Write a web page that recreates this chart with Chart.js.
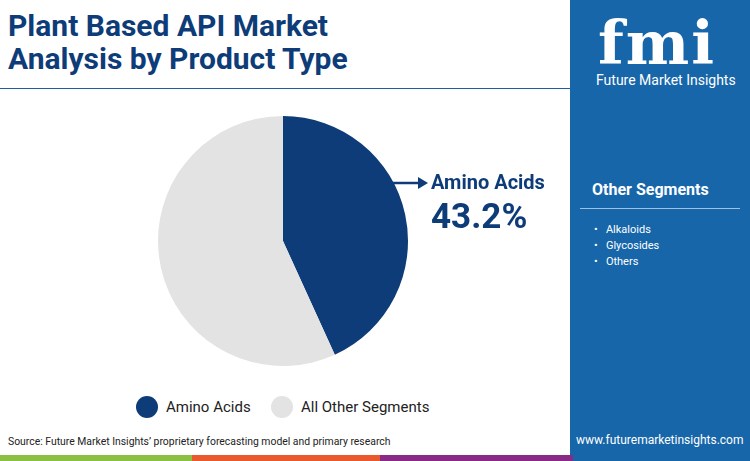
<!DOCTYPE html>
<html><head><meta charset="utf-8">
<script src="https://cdn.jsdelivr.net/npm/chart.js@4"></script>
<style>
body{margin:0;width:750px;height:461px;position:relative;overflow:hidden;font-family:Roboto,"Noto Sans",sans-serif;background:#fff}
.abs{position:absolute}
#title{left:8px;top:9px;font-size:30px;font-weight:700;color:#0d3c78;line-height:33px}
#rule{left:0;top:88px;width:570px;height:1px;background:#1b5fa0}
#panel{left:570px;top:0;width:180px;height:455px;background:#1766a9}
#chartBox{left:150px;top:108px;width:266px;height:266px}
#callout{left:431px;top:170px;color:#0d3c78;font-weight:700}
.leg{top:396px;font-size:15px;color:#222;display:flex;align-items:center}
.dot{width:22px;height:22px;border-radius:50%;margin-right:8px}
#src{left:8px;top:435px;font-size:10.4px;color:#222}
#web{left:576px;top:433px;font-size:12px;color:#fff}
</style></head><body>
<div class="abs" id="title">Plant Based API Market<br>Analysis by Product Type</div>
<div class="abs" id="rule"></div>
<div class="abs" id="panel"></div>
<div class="abs" style="left:598px;top:8px;color:#fff;font:700 60px 'DejaVu Serif',serif;letter-spacing:2px">fmi</div>
<div class="abs" style="left:596px;top:72px;color:#fff;font-size:14px">Future Market Insights</div>
<div class="abs" style="left:592px;top:180px;color:#fff;font-size:16px;font-weight:700">Other Segments</div>
<div class="abs" style="left:580px;top:208px;width:160px;height:1px;background:#9cc2e4"></div>
<div class="abs" style="left:594px;top:222px;color:#fff;font-size:11px;line-height:16px">•&nbsp;&nbsp;&nbsp;Alkaloids<br>•&nbsp;&nbsp;&nbsp;Glycosides<br>•&nbsp;&nbsp;&nbsp;Others</div>
<div class="abs" id="chartBox"><canvas id="c"></canvas></div>
<svg class="abs" style="left:390px;top:174px" width="40" height="18"><line x1="2" y1="9" x2="30" y2="9" stroke="#0d3c78" stroke-width="2.5"/><polygon points="28,3 38,9 28,15" fill="#0d3c78"/></svg>
<div class="abs" id="callout"><div style="font-size:20px">Amino Acids</div><div style="font-size:35px;margin-top:2px">43.2%</div></div>
<div class="abs leg" style="left:136px"><div class="dot" style="background:#0d3c78"></div>Amino Acids</div>
<div class="abs leg" style="left:271px"><div class="dot" style="background:#e3e3e3"></div>All Other Segments</div>
<div class="abs" id="src">Source: Future Market Insights’ proprietary forecasting model and primary research</div>
<div class="abs" id="web">www.futuremarketinsights.com</div>
<div class="abs" style="left:0;top:455px;width:192px;height:6px;background:#8bc043"></div>
<div class="abs" style="left:192px;top:455px;width:188px;height:6px;background:#e9592c"></div>
<div class="abs" style="left:380px;top:455px;width:193px;height:6px;background:#8a2a87"></div>
<div class="abs" style="left:573px;top:455px;width:177px;height:6px;background:#1766a9"></div>
<script>
const segments = ['Amino Acids', 'All Other Segments'];
const shares = [43.2, 56.8];
const colors = ['#0d3c78', '#e3e3e3'];
new Chart(document.getElementById('c'), {
  type: 'pie',
  data: { labels: segments, datasets: [{ data: shares, backgroundColor: colors, borderWidth: 0 }] },
  options: {
    responsive: true, maintainAspectRatio: false, animation: false,
    layout: { padding: 8 },
    plugins: { legend: { display: false }, tooltip: { enabled: false } }
  }
});
</script>
</body></html>
